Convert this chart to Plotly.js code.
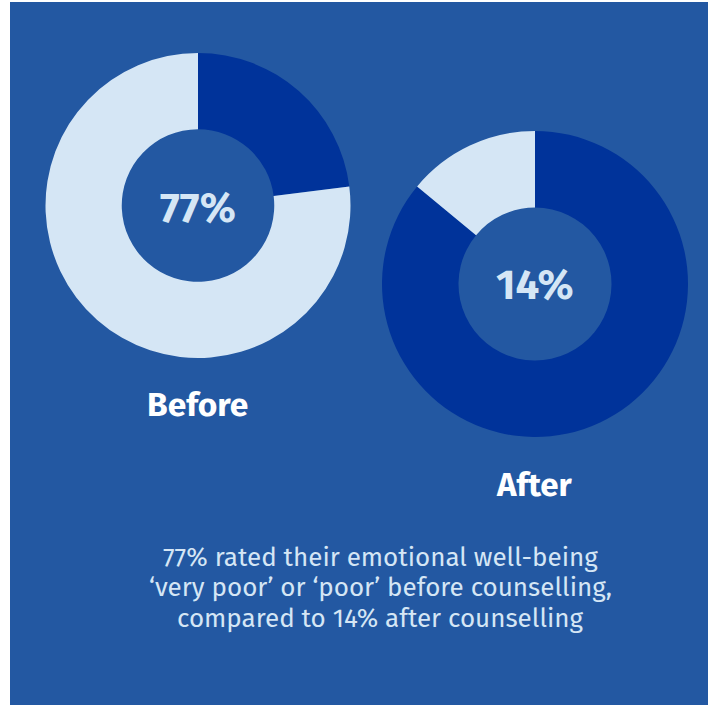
<!DOCTYPE html>
<html>
<head>
<meta charset="utf-8">
<script src="https://cdn.plot.ly/plotly-3.0.1.min.js"></script>
<style>html,body{margin:0;padding:0;background:#fff;}#chart{width:708px;height:705px;}</style>
</head>
<body>
<div id="chart"></div>
<script>
const sliceLabels = ["Not very poor / poor", "Very poor / poor"];
const beforeValues = [23, 77];
const afterValues = [86, 14];
const chartLabels = ["Before", "After"];
const centerTexts = ["77%", "14%"];
const captionLines = ["77% rated their emotional well-being", "‘very poor’ or ‘poor’ before counselling,", "compared to 14% after counselling"];

const W = 708, H = 705;
const BG = "#2358a2", DARK = "#00339a", LIGHT = "#d5e6f5";
const px = v => v / W, py = v => 1 - v / H;

const common = {
  type: "pie", hole: 0.5, sort: false, direction: "clockwise", rotation: 0,
  textinfo: "none", hoverinfo: "label+value", showlegend: false,
  marker: {colors: [DARK, LIGHT], line: {width: 0}}
};
const data = [
  Object.assign({}, common, {labels: sliceLabels, values: beforeValues, name: chartLabels[0],
    domain: {x: [px(45), px(351)], y: [py(358), py(53)]}}),
  Object.assign({}, common, {labels: sliceLabels, values: afterValues, name: chartLabels[1],
    domain: {x: [px(382), px(688)], y: [py(437), py(131)]}})
];

const font = "'Fira Sans', 'Open Sans', 'Noto Sans', sans-serif";
const annotations = [
  {text: "<b>" + centerTexts[0] + "</b>", x: px(198), y: py(208), font: {size: 42, color: LIGHT, family: font}},
  {text: "<b>" + centerTexts[1] + "</b>", x: px(535), y: py(285), font: {size: 42, color: LIGHT, family: font}},
  {text: "<b>" + chartLabels[0] + "</b>", x: px(198), y: py(405), font: {size: 33.5, color: "#ffffff", family: font}},
  {text: "<b>" + chartLabels[1] + "</b>", x: px(534), y: py(485), font: {size: 33, color: "#ffffff", family: font}}
].concat(captionLines.map((t, i) => ({
  text: t, x: px(380), y: py(557 + i * 30.5), font: {size: 26, color: LIGHT, family: font}
}))).map(a => Object.assign({xref: "paper", yref: "paper", xanchor: "center", yanchor: "middle", showarrow: false}, a));

const layout = {
  width: W, height: H,
  margin: {l: 0, r: 0, t: 0, b: 0},
  paper_bgcolor: "#ffffff",
  shapes: [{type: "rect", xref: "paper", yref: "paper", x0: px(10), x1: 1, y0: 0, y1: py(2),
    fillcolor: BG, line: {width: 0}, layer: "below"}],
  annotations: annotations
};
Plotly.newPlot("chart", data, layout, {displayModeBar: false, staticPlot: true});
</script>
</body>
</html>
